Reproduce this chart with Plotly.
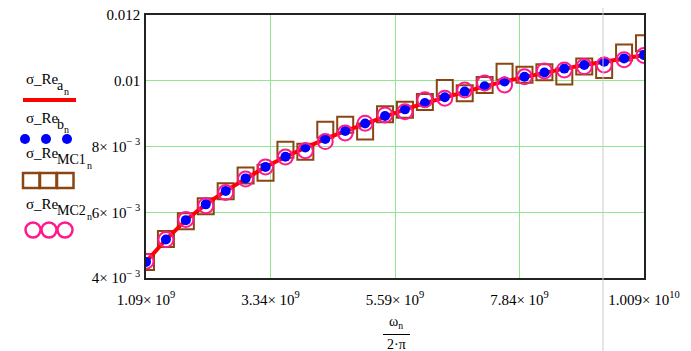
import plotly.graph_objects as go

# ---- data ----
f_start = 1.09e9
f_step = 0.36e9
n_points = 26
freq = [f_start + f_step * i for i in range(n_points)]

sigma_re_a = [0.00449, 0.00517, 0.00576, 0.00624, 0.00665, 0.00703, 0.00738, 0.00769,
              0.00797, 0.00823, 0.00847, 0.00870, 0.00893, 0.00913, 0.00932, 0.00950,
              0.00967, 0.00983, 0.00998, 0.01012, 0.01025, 0.01037, 0.01048, 0.01058,
              0.01068, 0.01078]
sigma_re_b = [0.00449, 0.00517, 0.00576, 0.00624, 0.00665, 0.00703, 0.00738, 0.00769,
              0.00797, 0.00823, 0.00847, 0.00870, 0.00893, 0.00913, 0.00932, 0.00950,
              0.00967, 0.00983, 0.00998, 0.01012, 0.01025, 0.01037, 0.01048, 0.01058,
              0.01068, 0.01078]
sigma_re_mc1 = [0.00449, 0.00519, 0.00573, 0.00618, 0.00664, 0.00712, 0.00720, 0.00790,
                0.00784, 0.00851, 0.00866, 0.00846, 0.00898, 0.00912, 0.00935, 0.00978,
                0.00962, 0.00987, 0.01027, 0.01018, 0.01026, 0.01013, 0.01043, 0.01033,
                0.01086, 0.01114]
sigma_re_mc2 = [0.00451, 0.00517, 0.00578, 0.00620, 0.00660, 0.00701, 0.00738, 0.00768,
                0.00787, 0.00815, 0.00841, 0.00871, 0.00896, 0.00906, 0.00942, 0.00947,
                0.00972, 0.00993, 0.00987, 0.01012, 0.01030, 0.01033, 0.01043, 0.01048,
                0.01064, 0.01077]

x_tickvals = [1.09e9, 3.34e9, 5.59e9, 7.84e9, 1.009e10]
x_ticktext = ["1.09× 10<sup>9</sup>", "3.34× 10<sup>9</sup>", "5.59× 10<sup>9</sup>",
              "7.84× 10<sup>9</sup>", "1.009× 10<sup>10</sup>"]
y_tickvals = [0.004, 0.006, 0.008, 0.010, 0.012]
y_ticktext = ["4× 10<sup>− 3</sup>", "6× 10<sup>− 3</sup>", "8× 10<sup>− 3</sup>", "0.01", "0.012"]

# ---- styling ----
FONT = "Liberation Serif, Times New Roman, serif"
RED = "#ff0000"
BLUE = "#0000ff"
BROWN = "#8b4513"
PINK = "#ff1a8c"
GRID = "#8fe88f"

OFF = 8  # page body margin
W, H = 691 - OFF, 351 - OFF
L, R, T, B = 146 - OFF, 47, 15 - OFF, 73
PW, PH = W - L - R, H - T - B


def px(x):
    # x in window pixels
    return (x - OFF - L) / PW


def py(y):
    # y in window pixels
    return (H - B - (y - OFF)) / PH


fig = go.Figure()
fig.add_trace(go.Scatter(x=freq, y=sigma_re_mc1, mode="markers",
                         marker=dict(symbol="square-open", size=16, color=BROWN,
                                     line=dict(width=2, color=BROWN)),
                         showlegend=False))
fig.add_trace(go.Scatter(x=freq, y=sigma_re_a, mode="lines",
                         line=dict(color=RED, width=4), showlegend=False))
fig.add_trace(go.Scatter(x=freq, y=sigma_re_b, mode="markers",
                         marker=dict(symbol="circle", size=10, color=BLUE),
                         showlegend=False))
fig.add_trace(go.Scatter(x=freq, y=sigma_re_mc2, mode="markers",
                         marker=dict(symbol="circle-open", size=15, color=PINK,
                                     line=dict(width=2, color=PINK)),
                         showlegend=False))

annotations = []
shapes = []


def label(px_x, px_y, main, sub, sub2, sub_dx):
    annotations.append(dict(x=px(px_x), y=py(px_y), xref="paper", yref="paper",
                            text=main, showarrow=False, xanchor="left", yanchor="middle",
                            font=dict(family=FONT, size=15, color="black")))
    annotations.append(dict(x=px(px_x + 31), y=py(px_y + 6), xref="paper", yref="paper",
                            text=sub, showarrow=False, xanchor="left", yanchor="middle",
                            font=dict(family=FONT, size=14, color="black")))
    annotations.append(dict(x=px(px_x + 31 + sub_dx), y=py(px_y + 12), xref="paper", yref="paper",
                            text=sub2, showarrow=False, xanchor="left", yanchor="middle",
                            font=dict(family=FONT, size=10, color="black")))


label(24, 79, "σ_Re", "a", "n", 7)
label(24, 118, "σ_Re", "b", "n", 7)
label(24, 153, "σ_Re", "MC1", "n", 30)
label(24, 204, "σ_Re", "MC2", "n", 30)

# legend samples
shapes.append(dict(type="line", xref="paper", yref="paper", x0=px(23), x1=px(76),
                   y0=py(100), y1=py(100), line=dict(color=RED, width=4)))
for cx in (25, 46, 67):
    shapes.append(dict(type="circle", xref="paper", yref="paper", x0=px(cx - 5), x1=px(cx + 5),
                       y0=py(139 + 5), y1=py(139 - 5), fillcolor=BLUE, line=dict(color=BLUE, width=0)))
for sx in (23, 40, 57):
    shapes.append(dict(type="rect", xref="paper", yref="paper", x0=px(sx), x1=px(sx + 16.5),
                       y0=py(188), y1=py(173), line=dict(color=BROWN, width=2.5)))
for cx in (33, 49, 65):
    shapes.append(dict(type="circle", xref="paper", yref="paper", x0=px(cx - 7.5), x1=px(cx + 7.5),
                       y0=py(230 + 7.5), y1=py(230 - 7.5), line=dict(color=PINK, width=2.5)))

# axis title fraction
annotations.append(dict(x=px(396), y=py(322), xref="paper", yref="paper",
                        text="ω<sub>n</sub>", showarrow=False, xanchor="center", yanchor="middle",
                        font=dict(family=FONT, size=14, color="black")))
shapes.append(dict(type="line", xref="paper", yref="paper", x0=px(383), x1=px(410),
                   y0=py(334.5), y1=py(334.5), line=dict(color="black", width=1)))
annotations.append(dict(x=px(396), y=py(344), xref="paper", yref="paper",
                        text="2·π", showarrow=False, xanchor="center", yanchor="middle",
                        font=dict(family=FONT, size=14, color="black")))

# gray region border line
shapes.append(dict(type="line", xref="paper", yref="paper", x0=px(603), x1=px(603),
                   y0=py(351), y1=py(6), line=dict(color="#cccccc", width=1), layer="above"))

fig.update_layout(
    width=W, height=H,
    margin=dict(l=L, r=R, t=T, b=B, pad=0, autoexpand=False),
    paper_bgcolor="white", plot_bgcolor="white",
    font=dict(family=FONT, size=15, color="black"),
    annotations=annotations, shapes=shapes,
    showlegend=False,
)
fig.update_xaxes(range=[1.09e9, 1.009e10], tickvals=x_tickvals, ticktext=x_ticktext,
                 showgrid=True, gridcolor=GRID, gridwidth=1, zeroline=False,
                 showline=True, linecolor="#222222", linewidth=1.5, mirror=True,
                 automargin=False, ticklabeloverflow="allow",
                 ticks="", ticklabelstandoff=7, tickfont=dict(family=FONT, size=15))
fig.update_yaxes(range=[0.004, 0.012], tickvals=y_tickvals, ticktext=y_ticktext,
                 showgrid=True, gridcolor=GRID, gridwidth=1, zeroline=False,
                 showline=True, linecolor="#222222", linewidth=1.5, mirror=True,
                 automargin=False, ticklabeloverflow="allow",
                 ticks="", ticklabelstandoff=1, tickfont=dict(family=FONT, size=15))

fig.write_html("out.html")
